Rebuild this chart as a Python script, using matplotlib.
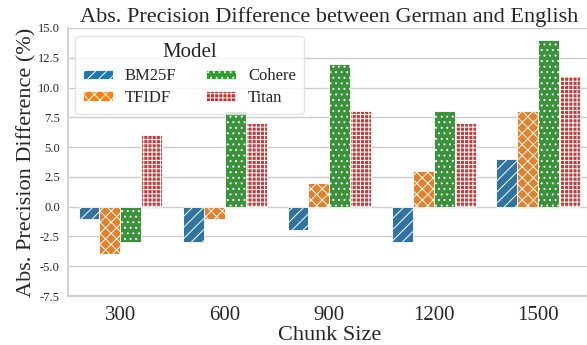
import matplotlib
matplotlib.use("Agg")
import matplotlib.pyplot as plt
from matplotlib.patches import Patch
import numpy as np
import seaborn as sns

chunk_sizes = ["300", "600", "900", "1200", "1500"]
models = ["BM25F", "TFIDF", "Cohere", "Titan"]
bm25f = [-1, -3, -2, -3, 4]
tfidf = [-4, -1, 2, 3, 8]
cohere = [-3, 8, 12, 8, 14]
titan = [6, 7, 8, 7, 11]
series = [bm25f, tfidf, cohere, titan]
hatches = ["///", "xxx", "...", "++++"]
base_colors = sns.color_palette("tab10")[:4]
bar_colors = [sns.desaturate(c, 0.75) for c in base_colors]

sns.set_theme(style="whitegrid")
plt.rcParams["font.family"] = ["Liberation Serif", "DejaVu Serif"]
plt.rcParams["hatch.color"] = "white"
plt.rcParams["hatch.linewidth"] = 0.7

fig = plt.figure(figsize=(5.87, 3.45), dpi=100)
ax = fig.add_axes([0.116, 0.142, 0.89, 0.777])

x = np.arange(len(chunk_sizes))
w = 0.2
for i, (name, vals) in enumerate(zip(models, series)):
    ax.bar(x + (i - 1.5) * w, vals, width=w, color=bar_colors[i], hatch=hatches[i],
           edgecolor="white", linewidth=0.6)

yt = np.arange(-7.5, 15.1, 2.5)
ax.set_xlim(-0.5, 4.5)
ax.set_ylim(-7.5, 15)
ax.set_yticks(yt)
ax.set_yticklabels([f"{v:.1f}" for v in yt], fontsize=9)
ax.set_xticks(x)
ax.set_xticklabels(chunk_sizes, fontsize=15)
ax.tick_params(axis="y", length=0, pad=6)
ax.tick_params(axis="x", length=0, pad=7)
ax.grid(axis="x", visible=False)
ax.set_xlabel("Chunk Size", fontsize=16, labelpad=1)
ax.set_ylabel("Abs. Precision Difference (%)", fontsize=16, labelpad=1)
ax.set_title("Abs. Precision Difference between German and English", fontsize=16, pad=4)
for s in ["top", "right"]:
    ax.spines[s].set_visible(False)
for s in ["left", "bottom"]:
    ax.spines[s].set_color("#cccccc")

handles = [Patch(facecolor=base_colors[i], hatch=hatches[i], edgecolor="white",
                 linewidth=0.6, label=models[i]) for i in range(4)]
leg = ax.legend(handles=handles, title="Model", ncol=2, loc="upper left", fontsize=12,
                title_fontsize=15, frameon=True, borderpad=0.45, columnspacing=1.8,
                handlelength=1.8, handleheight=0.5, handletextpad=0.72,
                labelspacing=0.35, borderaxespad=0, bbox_to_anchor=(0.0134, 0.97))
leg.get_frame().set_edgecolor("#dddddd")

fig.savefig("out.png", dpi=100)
